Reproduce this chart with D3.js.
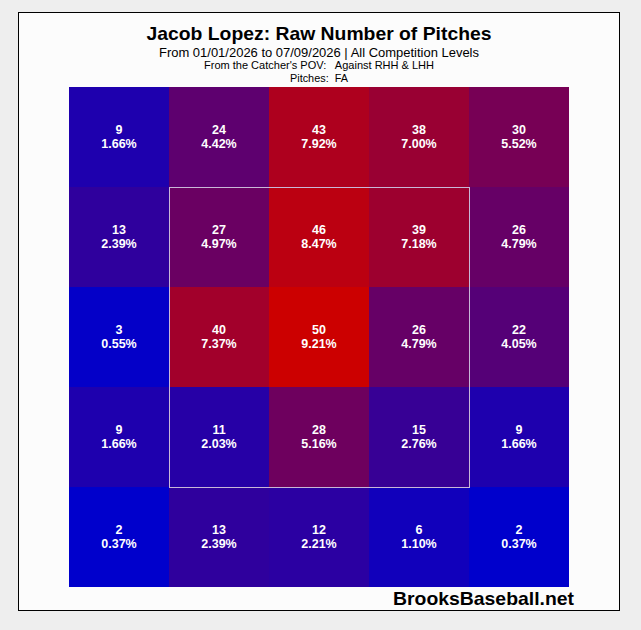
<!DOCTYPE html>
<html>
<head>
<meta charset="utf-8">
<script src="https://cdn.jsdelivr.net/npm/d3@7"></script>
<style>
  body { margin: 0; background: #eeeeee; }
  svg { display: block; font-family: "Liberation Sans", Arial, sans-serif; }
  text { white-space: pre; }
</style>
</head>
<body>
<svg id="chart" width="641" height="630"></svg>
<script>
"use strict";

// zone rows from top to bottom, columns left to right (catcher's POV)
var rowKeys = ["r1", "r2", "r3", "r4", "r5"];
var colKeys = ["c1", "c2", "c3", "c4", "c5"];

var counts = [
    [9, 24, 43, 38, 30],
    [13, 27, 46, 39, 26],
    [3, 40, 50, 26, 22],
    [9, 11, 28, 15, 9],
    [2, 13, 12, 6, 2]
];

var percents = [
    ["1.66%", "4.42%", "7.92%", "7.00%", "5.52%"],
    ["2.39%", "4.97%", "8.47%", "7.18%", "4.79%"],
    ["0.55%", "7.37%", "9.21%", "4.79%", "4.05%"],
    ["1.66%", "2.03%", "5.16%", "2.76%", "1.66%"],
    ["0.37%", "2.39%", "2.21%", "1.10%", "0.37%"]
];

var titleLines = [
    "Jacob Lopez: Raw Number of Pitches",
    "From 01/01/2026 to 07/09/2026 | All Competition Levels",
    "From the Catcher's POV:   Against RHH & LHH",
    "Pitches:  FA"
];

var svg = d3.select("#chart");

// outer panel
svg.append("rect")
    .attr("x", 18.5).attr("y", 12.5)
    .attr("width", 601).attr("height", 598)
    .attr("fill", "#fcfcfc")
    .attr("stroke", "#000").attr("stroke-width", 1);

// title block
var titleStyle = [
    {size: 19, weight: "bold", y: 40, len: 345},
    {size: 13, weight: "normal", y: 56.5, len: 320},
    {size: 11, weight: "normal", y: 68.5, len: 230},
    {size: 11, weight: "normal", y: 82, len: 58}
];
svg.selectAll("text.title").data(titleLines)
    .enter().append("text")
    .attr("class", "title")
    .attr("xml:space", "preserve")
    .attr("x", 319).attr("y", function(d, i){ return titleStyle[i].y; })
    .attr("text-anchor", "middle")
    .attr("font-size", function(d, i){ return titleStyle[i].size; })
    .attr("font-weight", function(d, i){ return titleStyle[i].weight; })
    .attr("textLength", function(d, i){ return titleStyle[i].len; })
    .attr("lengthAdjust", "spacingAndGlyphs")
    .attr("fill", "#000")
    .text(function(d){ return d; });

// grid scales
var x = d3.scaleBand().domain(colKeys).range([69, 569]);
var y = d3.scaleBand().domain(rowKeys).range([87, 587]);

var allCounts = d3.merge(counts);
var color = d3.scaleLinear()
    .domain([d3.min(allCounts), d3.max(allCounts)])
    .range(["#0000cc", "#cc0000"])
    .interpolate(d3.interpolateRgb);

var cells = [];
counts.forEach(function(row, i){
    row.forEach(function(v, j){
        cells.push({row: rowKeys[i], col: colKeys[j], n: v, pct: percents[i][j]});
    });
});

var g = svg.append("g");
g.selectAll("rect").data(cells)
    .enter().append("rect")
    .attr("x", function(d){ return x(d.col); })
    .attr("y", function(d){ return y(d.row); })
    .attr("width", x.bandwidth())
    .attr("height", y.bandwidth())
    .attr("fill", function(d){ return color(d.n); });

// strike zone outline: inner 3x3
svg.append("rect")
    .attr("x", x("c2") + 0.5).attr("y", y("r2") + 0.5)
    .attr("width", x.bandwidth() * 3).attr("height", y.bandwidth() * 3)
    .attr("fill", "none")
    .attr("stroke", "#c8b8d8").attr("stroke-width", 1);

var labels = svg.append("g").selectAll("g.lab").data(cells)
    .enter().append("g")
    .attr("class", "lab")
    .attr("transform", function(d){
        return "translate(" + (x(d.col) + x.bandwidth() / 2) + "," + (y(d.row) + y.bandwidth() / 2) + ")";
    });

labels.append("text")
    .attr("y", -3)
    .attr("text-anchor", "middle")
    .attr("font-size", 12.5).attr("font-weight", "bold")
    .attr("fill", "#fff")
    .text(function(d){ return d.n; });

labels.append("text")
    .attr("y", 11)
    .attr("text-anchor", "middle")
    .attr("font-size", 12.5).attr("font-weight", "bold")
    .attr("fill", "#fff")
    .text(function(d){ return d.pct; });

// watermark
svg.append("text")
    .attr("x", 574).attr("y", 605)
    .attr("text-anchor", "end")
    .attr("font-size", 19).attr("font-weight", "bold")
    .attr("textLength", 181)
    .attr("lengthAdjust", "spacingAndGlyphs")
    .attr("fill", "#000")
    .text("BrooksBaseball.net");
</script>
</body>
</html>
